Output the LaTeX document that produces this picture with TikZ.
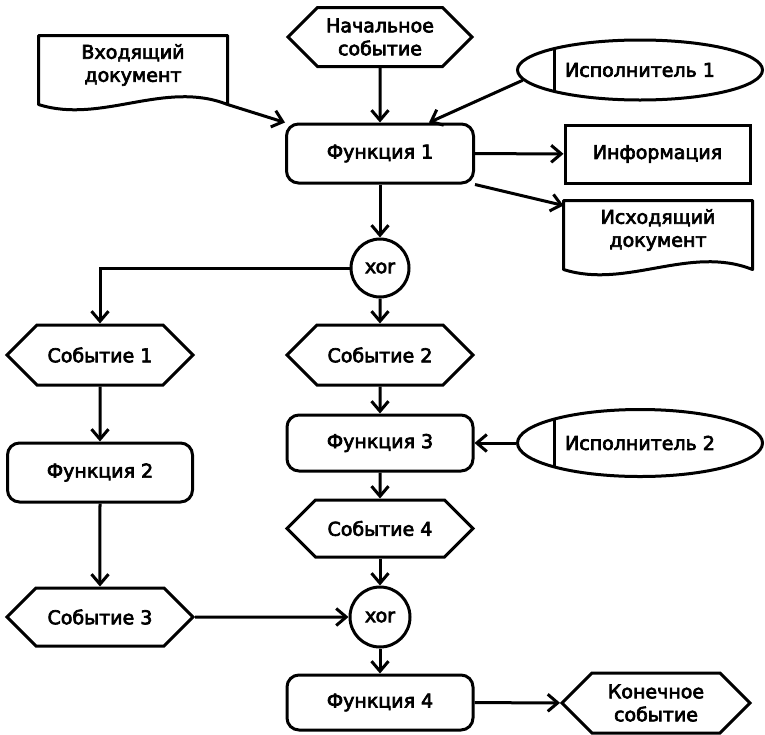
\documentclass[tikz,border=0pt]{standalone}
\usepackage{fontspec}
\setmainfont{DejaVu Sans}
\newfontfamily\diagfont{DejaVu Sans}[FakeBold=3.5]
\usetikzlibrary{shapes.geometric,shapes.symbols,arrows.meta,calc}

% document symbol: text node plus an outline with a wavy bottom edge
\newcommand\docoutline[1]{%
  \draw[shapeline]
    ($(#1.south west)+(0,10)$) -- (#1.north west) -- (#1.north east)
    -- ($(#1.south east)+(0,10)$)
    .. controls ($(#1.south east)!0.333!(#1.south west)+(0,-15)$)
           and ($(#1.south east)!0.667!(#1.south west)+(0,30)$)
    .. ($(#1.south west)+(0,10)$) -- cycle;}

\begin{document}
\begin{tikzpicture}[x=1pt,y=-1pt,
  shapeline/.style={line width=3pt, line join=round},
  every node/.style={font=\diagfont\fontsize{19}{23}\selectfont, align=center,
    inner sep=0pt, line width=3pt},
  func/.style={draw, rectangle, rounded corners=12pt, minimum width=187pt,
    minimum height=58pt},
  event/.style={draw, signal, signal to=west and east, signal pointer angle=90,
    minimum width=186pt, minimum height=59pt},
  docbox/.style={rectangle, minimum width=186pt, minimum height=56pt},
  info/.style={draw, rectangle, minimum width=185pt, minimum height=58pt},
  actor/.style={draw, ellipse, minimum width=245pt, minimum height=62pt,
    path picture={\draw[line width=3pt]
      ([xshift=37pt]path picture bounding box.south west) --
      ([xshift=37pt]path picture bounding box.north west);}},
  gate/.style={draw, circle, minimum size=58pt},
  flow/.style={line width=3pt,
    -{Straight Barb[length=10pt,width=17pt,line width=3pt]}},
]
\useasboundingbox (0,0) rectangle (765,734);

% top row
\node[event, minimum width=184pt] (start) at (380,37) {Начальное\\событие};
\node[docbox] (indoc) at (133,65) {Входящий\\документ};
\docoutline{indoc}
\node[actor, minimum height=60pt] (isp1) at (640,70) {Исполнитель 1};

% function 1 and its outputs
\node[func, minimum height=59pt] (f1) at (380,153.5) {Функция 1};
\node[info] (info) at (657.5,154) {Информация};
\node[docbox] (outdoc) at (658,230) {Исходящий\\документ};
\docoutline{outdoc}

% first split
\node[gate] (xor1) at (380,268) {xor};
\node[event, minimum height=60pt] (ev1) at (100,355) {Событие 1};
\node[event, minimum height=60pt] (ev2) at (380,355) {Событие 2};

% left branch
\node[func, minimum width=185pt, minimum height=59pt] (f2) at (100,472.5) {Функция 2};
\node[event, minimum height=58pt] (ev3) at (100,617) {Событие 3};

% right branch
\node[func, minimum width=186pt, minimum height=56pt] (f3) at (380,443) {Функция 3};
\node[actor, minimum height=67pt] (isp2) at (640,443) {Исполнитель 2};
\node[event, minimum height=57pt] (ev4) at (380,528.5) {Событие 4};

% join and end
\node[gate, minimum size=60pt] (xor2) at (380,617) {xor};
\node[func, minimum width=186pt, minimum height=55pt] (f4) at (380,702.5) {Функция 4};
\node[event, minimum width=188pt, minimum height=60pt] (endev) at (656,703) {Конечное\\событие};

% connectors
\draw[flow] (start) -- (f1);
\draw[flow] ($(indoc.south east)+(0,10)$) -- (f1.north west);
\draw[flow] (isp1.185) -- ([xshift=49pt]f1.north);
\draw[flow] (f1) -- (info);
\draw[flow] (f1.south east) -- ([yshift=-5pt]outdoc.north west);
\draw[flow] (f1) -- (xor1);
\draw[flow] (xor1.west) -| (ev1.north);
\draw[flow] (xor1) -- (ev2);
\draw[flow] (ev1) -- (f2);
\draw[flow] (f2) -- (ev3);
\draw[flow] (ev2) -- (f3);
\draw[flow] (isp2) -- (f3);
\draw[flow] (f3) -- (ev4);
\draw[flow] (ev4) -- (xor2);
\draw[flow] (ev3) -- (xor2);
\draw[flow] (xor2) -- (f4);
\draw[flow] (f4) -- (endev);
\end{tikzpicture}
\end{document}
